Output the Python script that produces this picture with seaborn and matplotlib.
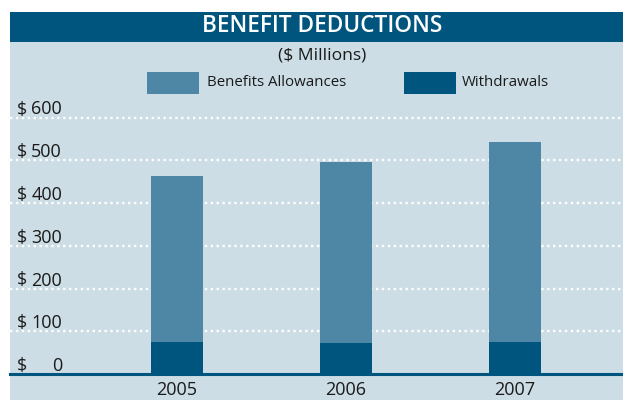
import matplotlib
matplotlib.use("Agg")
import matplotlib.pyplot as plt
import matplotlib.patches as mpatches
import matplotlib.transforms as mtransforms
import seaborn as sns
import pandas as pd

years = ["2005", "2006", "2007"]
withdrawals = [74, 72, 74]
allowances = [388, 423, 468]
series_names = ["Benefits Allowances", "Withdrawals"]
ytick_values = [0, 100, 200, 300, 400, 500, 600]
ytick_labels = ["0", "100", "200", "300", "400", "500", "600"]

title = "BENEFIT DEDUCTIONS"
subtitle = "($ Millions)"

DARK = "#00557f"
MID = "#4e87a6"
BG = "#ccdde5"
FONT = "Open Sans"

sns.set_theme(style="white")
plt.rcParams["font.family"] = [FONT, "DejaVu Sans"]

W, H = 623, 400
fig = plt.figure(figsize=(W / 100, H / 100), dpi=100, facecolor="white")

def fx(px):
    return px / W

def fy(py):
    return 1 - py / H

# panel background and title band
fig.patches.append(mpatches.Rectangle((fx(10), 0), 1 - fx(10), fy(12), transform=fig.transFigure,
                                      facecolor=BG, edgecolor="none", zorder=-2))
fig.patches.append(mpatches.Rectangle((fx(10), fy(42)), 1 - fx(10), fy(12) - fy(42), transform=fig.transFigure,
                                      facecolor=DARK, edgecolor="none", zorder=-1))
fig.text(fx(322), fy(26), title, color="white", fontsize=16.3, fontweight="semibold",
         ha="center", va="center")
fig.text(fx(322), fy(55), subtitle, color="#1a1a1a", fontsize=12.6, ha="center", va="center")

# legend
for name, col, x0, tx in [(series_names[0], MID, 147, 207), (series_names[1], DARK, 404, 462)]:
    fig.patches.append(mpatches.Rectangle((fx(x0), fy(94)), fx(52), fy(72) - fy(94),
                                          transform=fig.transFigure, facecolor=col,
                                          edgecolor="none", zorder=-1))
    fig.text(fx(tx), fy(83), name, color="#1a1a1a", fontsize=10.8, ha="left", va="center")

top_px = 100
ax = fig.add_axes([fx(10), fy(374), fx(623) - fx(10), fy(top_px) - fy(374)])
ax.set_facecolor("none")
ax.set_zorder(5)

df = pd.DataFrame({
    "year": years,
    "total": [a + w for a, w in zip(allowances, withdrawals)],
    "withdrawals": withdrawals,
})

sns.barplot(data=df, x="year", y="total", color=MID, width=0.308, saturation=1,
            ax=ax, zorder=3, edgecolor="none")
sns.barplot(data=df, x="year", y="withdrawals", color=DARK, width=0.308, saturation=1,
            ax=ax, zorder=4, edgecolor="none")

scale = (374 - 117.5) / 600.0
ax.set_ylim(0, (374 - top_px) / scale)
ax.set_xlim(-0.988, 2.639)

for v in ytick_values[1:]:
    ax.axhline(v, color="white", lw=1.7, linestyle=(0, (1, 1.5)), zorder=2)

trans = mtransforms.blended_transform_factory(fig.transFigure, ax.transData)
off = mtransforms.offset_copy(trans, fig=fig, x=0, y=3, units="dots")
for v, lab in zip(ytick_values, ytick_labels):
    fig.text(fx(17), v, "$", transform=off, fontsize=13, color="#1a1a1a", ha="left", va="baseline")
    fig.text(fx(62), v, lab, transform=off, fontsize=13, color="#1a1a1a", ha="right", va="baseline")

ax.set_yticks([])
ax.set_xlabel("")
ax.set_ylabel("")
ax.tick_params(axis="x", length=0, pad=5, labelsize=13, labelcolor="#1a1a1a")
for s in ["top", "left", "right"]:
    ax.spines[s].set_visible(False)
ax.spines["bottom"].set_color(DARK)
ax.spines["bottom"].set_linewidth(2.2)
ax.spines["bottom"].set_zorder(5)

fig.savefig("out.png", dpi=100, facecolor="white")
